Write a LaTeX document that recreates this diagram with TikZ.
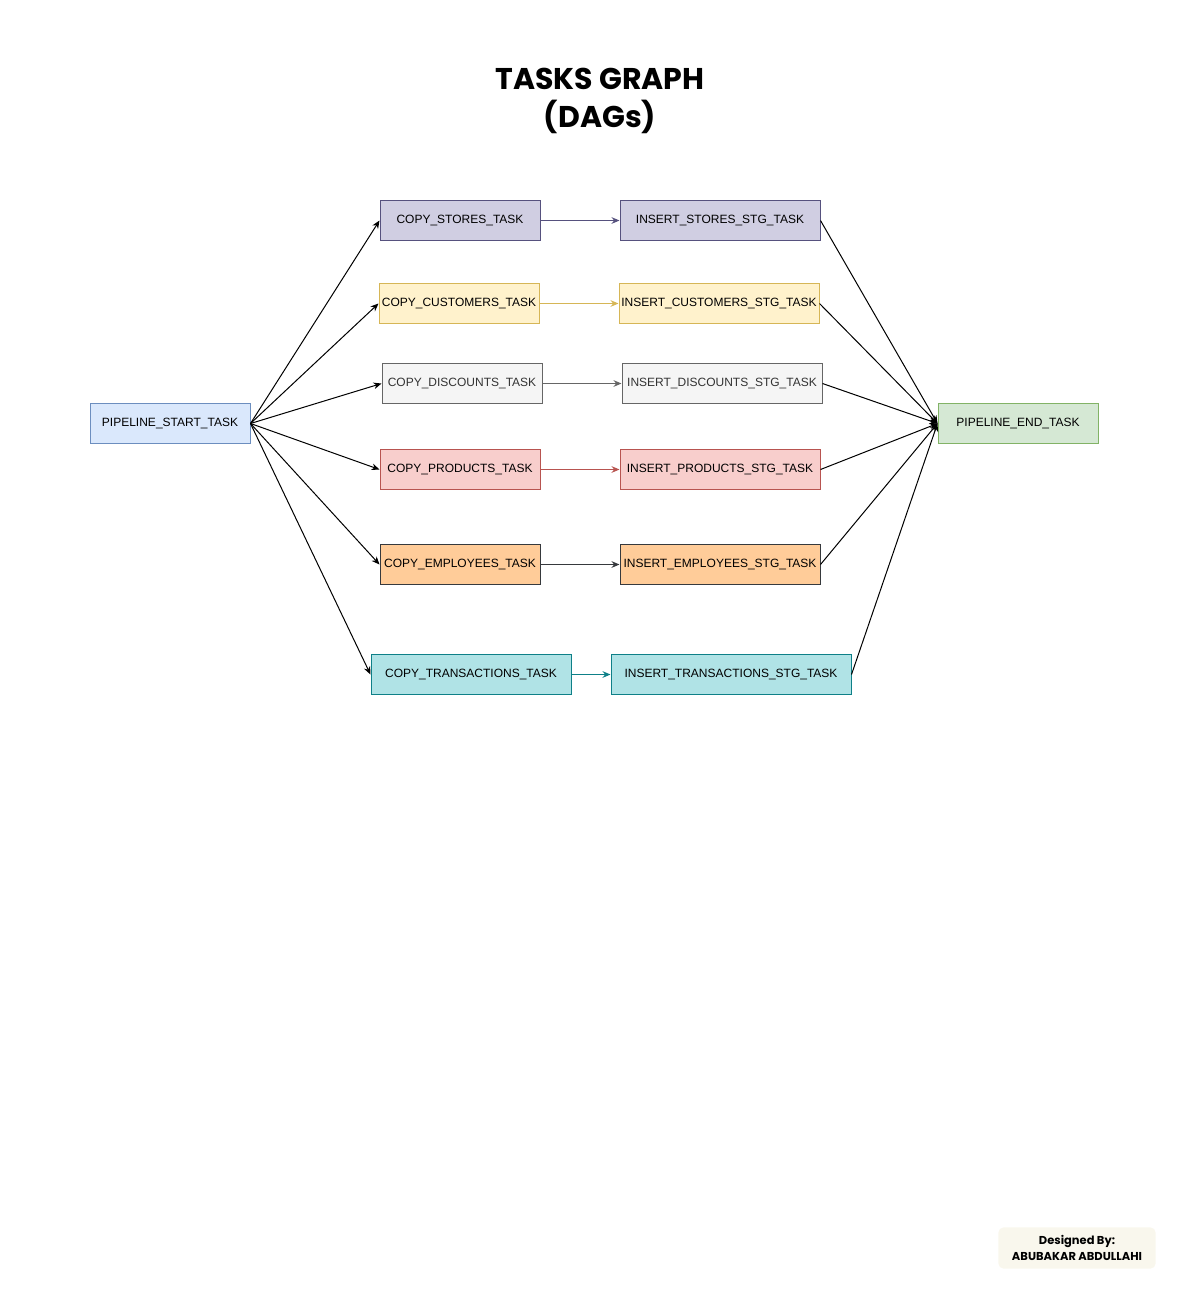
\documentclass[tikz,border=0pt]{standalone}
\usepackage{fontspec}
\setmainfont{Liberation Sans}
\newfontfamily\titlefont{Poppins}
\usetikzlibrary{arrows.meta}
\definecolor{stfill}{HTML}{DAE8FC}\definecolor{stdraw}{HTML}{6C8EBF}
\definecolor{pufill}{HTML}{D0CEE2}\definecolor{pudraw}{HTML}{56517E}
\definecolor{yefill}{HTML}{FFF2CC}\definecolor{yedraw}{HTML}{D6B656}
\definecolor{grfill}{HTML}{F5F5F5}\definecolor{grdraw}{HTML}{666666}\definecolor{grtext}{HTML}{333333}
\definecolor{refill}{HTML}{F8CECC}\definecolor{redraw}{HTML}{B85450}
\definecolor{orfill}{HTML}{FFCC99}\definecolor{ordraw}{HTML}{36393D}
\definecolor{tefill}{HTML}{B0E3E6}\definecolor{tedraw}{HTML}{0E8088}
\definecolor{gnfill}{HTML}{D5E8D4}\definecolor{gndraw}{HTML}{82B366}
\definecolor{footfill}{HTML}{F9F7ED}
\tikzset{
  box/.style={draw, line width=0.75pt, minimum height=30pt, inner sep=0pt, font=\fontsize{9}{11}\selectfont, text=black},
  narrow/.style={box, minimum width=120pt},
  wide/.style={box, minimum width=150pt},
  wider/.style={box, minimum width=180pt},
  conn/.style={line width=0.75pt, -{Stealth[length=6pt,width=5pt]}},
}
\begin{document}
\begin{tikzpicture}[x=0.75pt,y=-0.75pt]
\useasboundingbox (0,0) rectangle (1200,1300);
\node[font=\titlefont\bfseries\fontsize{22.5}{29}\selectfont, align=center] (title) at (600,101) {TASKS GRAPH\\(DAGs)};

\node[narrow, fill=stfill, draw=stdraw] (start) at (170,423.5) {PIPELINE\_START\_TASK};
\node[narrow, fill=gnfill, draw=gndraw] (end) at (1018,423.5) {PIPELINE\_END\_TASK};

\node[narrow, fill=pufill, draw=pudraw] (cs) at (460,220.5) {COPY\_STORES\_TASK};
\node[wide, fill=pufill, draw=pudraw] (is) at (720,220.5) {INSERT\_STORES\_STG\_TASK};

\node[narrow, fill=yefill, draw=yedraw] (cc) at (459,303.5) {COPY\_CUSTOMERS\_TASK};
\node[wide, fill=yefill, draw=yedraw] (ic) at (719,303.5) {INSERT\_CUSTOMERS\_STG\_TASK};

\node[narrow, fill=grfill, draw=grdraw, text=grtext] (cd) at (462,383.5) {COPY\_DISCOUNTS\_TASK};
\node[wide, fill=grfill, draw=grdraw, text=grtext] (id) at (722,383.5) {INSERT\_DISCOUNTS\_STG\_TASK};

\node[narrow, fill=refill, draw=redraw] (cp) at (460,469.5) {COPY\_PRODUCTS\_TASK};
\node[wide, fill=refill, draw=redraw] (ip) at (720,469.5) {INSERT\_PRODUCTS\_STG\_TASK};

\node[narrow, fill=orfill, draw=ordraw] (ce) at (460,564.5) {COPY\_EMPLOYEES\_TASK};
\node[wide, fill=orfill, draw=ordraw] (ie) at (720,564.5) {INSERT\_EMPLOYEES\_STG\_TASK};

\node[wide, fill=tefill, draw=tedraw] (ct) at (471,674.5) {COPY\_TRANSACTIONS\_TASK};
\node[wider, fill=tefill, draw=tedraw] (it) at (731,674.5) {INSERT\_TRANSACTIONS\_STG\_TASK};

\foreach \n in {cs,cc,cd,cp,ce,ct}{\draw[conn] (start.east) -- (\n.west);}
\foreach \n in {is,ic,id,ip,ie,it}{\draw[conn] (\n.east) -- (end.west);}

\draw[conn, draw=pudraw, fill=pudraw] (cs) -- (is);
\draw[conn, draw=yedraw, fill=yedraw] (cc) -- (ic);
\draw[conn, draw=grdraw, fill=grdraw] (cd) -- (id);
\draw[conn, draw=redraw, fill=redraw] (cp) -- (ip);
\draw[conn, draw=ordraw, fill=ordraw] (ce) -- (ie);
\draw[conn, draw=tedraw, fill=tedraw] (ct) -- (it);

\node[fill=footfill, rounded corners=4pt, minimum width=118pt, minimum height=31pt, align=center, inner sep=0pt,
      font=\titlefont\bfseries\fontsize{8.6}{11.5}\selectfont] (foot) at (1077,1248) {Designed By:\\ABUBAKAR ABDULLAHI};
\end{tikzpicture}
\end{document}
